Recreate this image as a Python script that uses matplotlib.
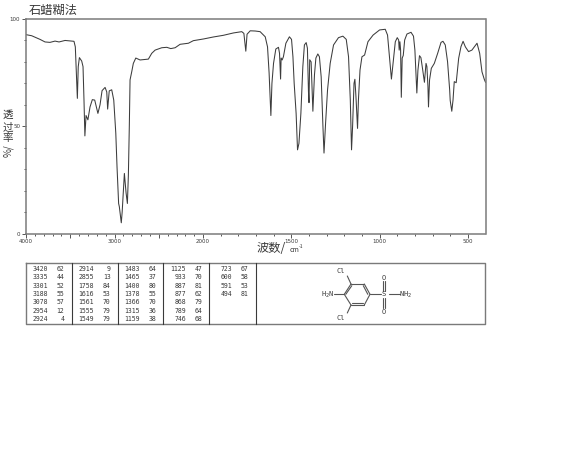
import numpy as np
import matplotlib
matplotlib.use("Agg")
import matplotlib.pyplot as plt
from matplotlib.ticker import FixedLocator, FixedFormatter

# Spectrum: wavenumber (cm-1) and transmittance (%)
wavenumber = [4000,3936,3842,3785,3729,3672,3627,3559,3458,3443,3420,3410,3397,3371,3356,3345,3335,3322,3301,3277,
 3251,3224,3188,3164,3141,3107,3088,3078,3060,3032,3009,2986,2972,2954,2946,2924,2914,2889,2870,2855,
 2844,2833,2825,2806,2788,2760,2712,2618,2580,2542,2467,2410,2365,2316,2260,2166,2110,1997,1943,1885,
 1828,1781,1769,1758,1751,1733,1705,1677,1648,1635,1626,1616,1610,1601,1588,1573,1567,1561,1558,1552,
 1545,1531,1511,1499,1491,1484,1473,1465,1457,1446,1435,1426,1416,1409,1403,1400,1396,1388,1378,1369,
 1361,1350,1341,1331,1321,1315,1306,1295,1280,1261,1233,1208,1189,1176,1166,1159,1153,1145,1140,1134,
 1125,1120,1111,1100,1085,1066,1037,1000,968,955,944,933,924,911,900,892,889,885,881,877,
 872,866,858,845,822,808,800,794,789,783,774,766,757,746,737,732,726,723,717,707,
 690,671,652,641,628,615,603,600,591,584,577,566,552,539,527,514,496,477,448,433,
 420,407,400]
transmittance = [92.7,92.2,90.5,89.3,89.1,89.7,89.3,90,89.6,87,63,77.8,82,80.4,77.8,62,45.5,55,53,59,
 62.4,62.2,56,60,66.6,68.1,66,58,66.5,67,62.2,46.8,31,14,12.5,5,10,28,19,14,
 27,50.6,71.6,75.4,79.3,81.8,80.9,81.3,84,85.5,86.6,86.8,86.2,86.6,88.2,88.7,89.9,90.7,91.6,92.4,
 93.5,94.1,93.3,85,92.9,94.5,94.4,94.1,91.7,87,74.8,55,70,79.3,86,86.8,84,72,81.8,80.9,
 82.4,88.7,91.7,90.5,82.4,70,56,39,42,56,77.7,87.9,89,86.4,66,61,81,80,57,74,
 81.8,83.7,82.4,73,49.8,37.5,51.5,66.9,79.3,87.9,91.3,92,90.5,82.4,62.2,39,50,70,71.9,63.8,
 49,62.2,76.2,82.4,83.2,89.4,92.5,94.9,95.2,92.5,82.4,72,79.3,89.4,91.3,90.2,85.5,89.4,85.5,63.5,
 81.8,83,90.2,93,93.8,92,85.5,74.8,65.5,76,82.9,82,77,70.5,79.3,77.8,68.4,59,71.6,77,
 79.3,84,89.1,89.6,87.9,80.1,66.9,62,57,62.2,70.8,70.3,81.7,87.1,89.6,87,84.8,85.5,88.7,84,
 75.4,71.9,70.5]

# Peak table
table_columns = [
    [("3420",62),("3335",44),("3301",52),("3188",55),("3078",57),("2954",12),("2924",4)],
    [("2914",9),("2855",13),("1758",84),("1616",53),("1561",70),("1555",79),("1549",79)],
    [("1483",64),("1465",37),("1400",80),("1378",55),("1366",70),("1315",36),("1159",38)],
    [("1125",47),("933",70),("887",81),("877",62),("868",79),("789",64),("746",68)],
    [("723",67),("600",58),("591",53),("494",81)],
]
x_major = [4000,3500,3000,2500,2000,1500,1000,500]
x_labels = ["4000","","3000","","2000","1500","1000","500"]
x_minor = list(range(3900,400,-100))
y_major = [0,50,100]
y_minor = list(range(0,101,10))

W, H = 570, 475
fig = plt.figure(figsize=(W/100, H/100), dpi=100, facecolor="white")
CJK = ["Noto Sans CJK SC", "DejaVu Sans"]
INK = "#3a3a3a"
FRAME = "#7a7a7a"

L, R, T, B = 26.0, 485.5, 19.0, 233.5
ax = fig.add_axes([L/W, 1-B/H, (R-L)/W, (B-T)/H])

def fwd(w):
    w = np.asarray(w, dtype=float)
    return np.where(w >= 2000, (w-4000)*0.0885, -177+(w-2000)*0.1764)
def inv(p):
    p = np.asarray(p, dtype=float)
    return np.where(p >= -177, 4000+p/0.0885, 2000+(p+177)/0.1764)

ax.set_xscale("function", functions=(fwd, inv))
ax.plot(wavenumber, transmittance, color="#3c3c3c", lw=0.75, solid_joinstyle="round")
ax.set_xlim(4000, 400)
ax.set_ylim(0, 100)
ax.xaxis.set_major_locator(FixedLocator(x_major))
ax.xaxis.set_major_formatter(FixedFormatter(x_labels))
ax.xaxis.set_minor_locator(FixedLocator(x_minor))
ax.xaxis.set_minor_formatter(FixedFormatter([""]*len(x_minor)))
ax.yaxis.set_major_locator(FixedLocator(y_major))
ax.yaxis.set_minor_locator(FixedLocator(y_minor))
ax.tick_params(axis="both", which="major", length=3, width=0.6, color=INK, labelsize=4,
               labelcolor=INK, pad=1.2)
ax.tick_params(axis="both", which="minor", length=1.4, width=0.6, color=INK)
for s in ax.spines.values():
    s.set_color(FRAME)
    s.set_linewidth(1.1)

# Overlay in pixel space for annotations, table and structure
ov = fig.add_axes([0, 0, 1, 1], facecolor="none")
ov.set_xlim(0, W); ov.set_ylim(H, 0); ov.axis("off")

ov.text(29, 10, "石蜡糊法", family=CJK, fontsize=8.8, color=INK, va="center", ha="left")
for ch, y in zip("透过率", (115, 127, 138)):
    ov.text(8, y, ch, family=CJK, fontsize=7.6, color=INK, ha="center", va="center")
ov.text(8, 151, "%/", family=CJK, fontsize=7, color=INK, rotation=90, ha="center", va="center")
ov.text(257, 249, "波数/", family=CJK, fontsize=8.8, color=INK, ha="left", va="center")
ov.text(290, 250.5, "cm", family=CJK, fontsize=5, color=INK, ha="left", va="center")
ov.text(299, 246.5, "-1", family=CJK, fontsize=3.6, color=INK, ha="left", va="center")

# Table frame
ov.plot([26,485,485,26,26],[263,263,324.3,324.3,263], color=FRAME, lw=1.0)
dividers = [72.3,117.7,163.3,209.3,255.7]
for d in dividers:
    ov.plot([d,d],[263,324.3], color=INK, lw=0.8)
num_right = [47.7,94,140,186,232.3]
val_right = [64.3,110.7,156.7,202.3,248.3]
for col, xa, xb in zip(table_columns, num_right, val_right):
    for i, (wn, tv) in enumerate(col):
        y = 269 + i*8.33
        ov.text(xa, y, wn, family="DejaVu Sans Mono", fontsize=4.7, color=INK, ha="right", va="center")
        ov.text(xb, y, str(tv), family="DejaVu Sans Mono", fontsize=4.7, color=INK, ha="right", va="center")

# Structure
BOND = "#555555"
def bond(x0, y0, x1, y1, lw=0.8):
    ov.plot([x0,x1],[y0,y1], color=BOND, lw=lw, solid_capstyle="round")
ring = [(351,284),(364.3,284),(370,294.3),(364.3,305),(351,305),(344.3,294.3)]
for i in range(6):
    a, b = ring[i], ring[(i+1)%6]
    bond(a[0],a[1],b[0],b[1])
bond(345.8,294.3,351.8,285.7); bond(363.3,285.7,367.8,294.3); bond(352,303.3,363.3,303.3)
bond(351,284,347.3,276); bond(351,305,347.3,313)
bond(344.3,294.3,334,294.3); bond(370,294.3,380.5,294.3)
bond(399.5,294.3,388.5,294.3)
bond(382.8,281,382.8,291); bond(385.2,281,385.2,291)
bond(382.8,298,382.8,308); bond(385.2,298,385.2,308)
lab = dict(family="DejaVu Sans Mono", fontsize=5, color=INK, ha="center", va="center")
ov.text(340.5,271,"Cl",**lab); ov.text(340.5,317.5,"Cl",**lab)
ov.text(327.5,294.5,"H$_2$N",**lab)
ov.text(384,294.5,"S",**lab); ov.text(384,277.5,"O",**lab); ov.text(384,311.5,"O",**lab)
ov.text(405.5,294.5,"NH$_2$",**lab)

fig.savefig("out.png", dpi=100, facecolor="white")
